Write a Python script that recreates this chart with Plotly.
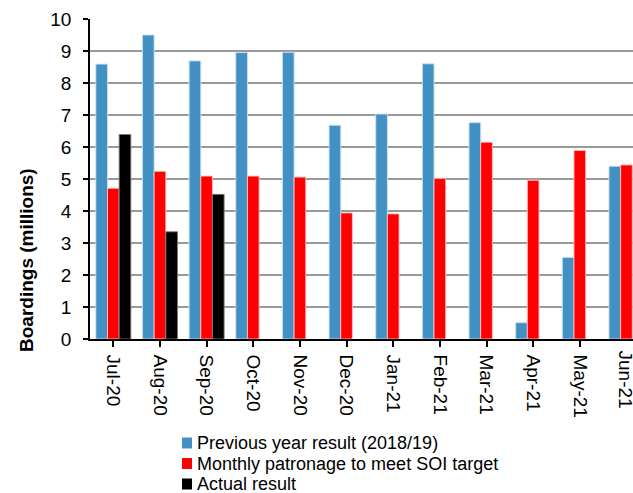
import plotly.graph_objects as go

months = ["Jul-20", "Aug-20", "Sep-20", "Oct-20", "Nov-20", "Dec-20",
          "Jan-21", "Feb-21", "Mar-21", "Apr-21", "May-21", "Jun-21"]
previous_year = [8.59, 9.50, 8.69, 8.95, 8.96, 6.68, 7.03, 8.60, 6.76, 0.51, 2.55, 5.40]
soi_target = [4.71, 5.24, 5.09, 5.09, 5.06, 3.94, 3.91, 5.02, 6.15, 4.96, 5.89, 5.44]
actual = [6.39, 3.35, 4.52, None, None, None, None, None, None, None, None, None]

series_names = ["Previous year result (2018/19)",
                "Monthly patronage to meet SOI target",
                "Actual result"]
series_colors = ["#4390c3", "#ff0000", "#000000"]
series_edges = ["rgba(200,225,245,0.9)", "rgba(255,190,190,0.9)", "rgba(120,120,120,0.9)"]

FONT = "Liberation Sans, Arial, sans-serif"

W, H = 633, 493
ML, MR, MT, MB = 90, 0, 19, 154
PW, PH = W - ML - MR, H - MT - MB
X_MAX = 11.14  # the axis runs past the right edge of the figure


def px_x(px):
    return (px - ML) / PW


def px_y(py):
    return (MT + PH - py) / PH


fig = go.Figure()
for name, vals, color, edge in zip(series_names, [previous_year, soi_target, actual],
                                   series_colors, series_edges):
    fig.add_trace(go.Bar(
        x=list(range(len(months))), y=vals, name=name, showlegend=False,
        marker=dict(color=color, line=dict(color=edge, width=1)),
    ))

# Legend: coloured squares with labels stacked under the plot
shapes, annotations = [], []
row_y = [443, 463.5, 484]
for name, color, cy in zip(series_names, series_colors, row_y):
    shapes.append(dict(
        type="rect", xref="paper", yref="paper",
        x0=px_x(182), x1=px_x(192), y0=px_y(cy - 5.5), y1=px_y(cy + 5.5),
        fillcolor=color, line=dict(width=0),
    ))
    annotations.append(dict(
        text=name, xref="paper", yref="paper",
        x=px_x(195), y=px_y(cy), xanchor="left", yanchor="middle",
        showarrow=False, font=dict(family=FONT, size=18, color="black"),
    ))

# Category labels that run off the right edge are drawn as rotated text
tick_labels_shown = [i for i in range(len(months)) if i + 0.35 <= X_MAX]
for i in range(len(months)):
    if i not in tick_labels_shown:
        annotations.append(dict(
            text=months[i], xref="x", yref="paper",
            x=i, y=px_y(349), xanchor="center", yanchor="top",
            textangle=90, showarrow=False,
            font=dict(family=FONT, size=19, color="black"),
        ))

annotations.append(dict(
    text="<b>Boardings (millions)</b>",
    xref="paper", yref="paper",
    x=px_x(26), y=px_y(260),
    xanchor="center", yanchor="middle",
    textangle=-90, showarrow=False,
    font=dict(family=FONT, size=19, color="black"),
))

fig.update_layout(
    width=W, height=H,
    margin=dict(l=ML, r=MR, t=MT, b=MB, autoexpand=False),
    paper_bgcolor="white", plot_bgcolor="white",
    barmode="group", bargap=0.25, bargroupgap=0,
    font=dict(family=FONT, size=19, color="black"),
    showlegend=False,
    xaxis=dict(
        range=[-0.5, X_MAX], automargin=False,
        tickmode="array", tickvals=tick_labels_shown,
        ticktext=[months[i] for i in tick_labels_shown],
        tickangle=90, tickson="boundaries",
        ticks="outside", ticklen=6, tickcolor="black", tickwidth=1.5,
        showline=True, linecolor="black", linewidth=1.5,
        showgrid=False, zeroline=False,
        tickfont=dict(family=FONT, size=19),
        ticklabelstandoff=4,
    ),
    yaxis=dict(
        range=[0, 10], dtick=1, tick0=0, automargin=False,
        ticks="outside", ticklen=5, tickcolor="black", tickwidth=1.5,
        showline=True, linecolor="black", linewidth=1.5,
        showgrid=True, gridcolor="#9a9a9a", gridwidth=1.5,
        zeroline=False,
        tickfont=dict(family=FONT, size=19),
        ticklabelstandoff=8,
    ),
    shapes=shapes,
    annotations=annotations,
)

fig.write_html("out.html")
